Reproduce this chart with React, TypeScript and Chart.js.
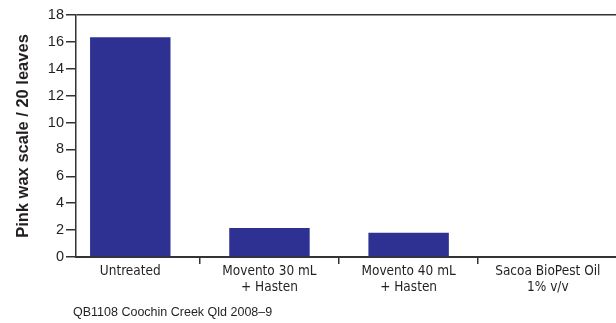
import React, { useEffect, useRef } from 'react';
import { Chart, registerables } from 'chart.js';

Chart.register(...registerables);

const categories: string[][] = [
  ['Untreated'],
  ['Movento 30 mL', '+ Hasten'],
  ['Movento 40 mL', '+ Hasten'],
  ['Sacoa BioPest Oil', '1% v/v'],
];
const values: number[] = [16.35, 2.15, 1.8, 0];
const yMin = 0;
const yMax = 18;
const yStep = 2;
const yTitle = 'Pink wax scale / 20 leaves';
const footnote = 'QB1108 Coochin Creek Qld 2008–9';

const FONT = '"Liberation Sans", Arial, Helvetica, sans-serif';
const NARROW = '"DejaVu Sans Condensed", "DejaVu Sans", sans-serif';
const TEXT = '#231f20';
const LINE = '#333333';
const BAR = '#2e3192';

export default function App() {
  const ref = useRef<HTMLCanvasElement | null>(null);

  useEffect(() => {
    if (!ref.current) return;
    const chart = new Chart(ref.current, {
      type: 'bar',
      data: {
        datasets: [
          {
            data: values.map((v, i) => ({ x: i, y: v })),
            backgroundColor: BAR,
            borderWidth: 0,
            barPercentage: 0.578,
            categoryPercentage: 1,
          },
        ],
      },
      options: {
        animation: false,
        responsive: false,
        devicePixelRatio: 1,
        layout: { padding: { left: 10, top: 15, right: 0, bottom: 0 } },
        plugins: { legend: { display: false }, tooltip: { enabled: false } },
        scales: {
          x: {
            type: 'linear',
            min: -0.39,
            max: 3.49,
            offset: false,
            afterBuildTicks: (s: any) => {
              s.ticks = categories.map((_, i) => ({ value: i }));
            },
            afterFit: (s: any) => {
              s.height = 66;
            },
            grid: {
              offset: true,
              drawOnChartArea: false,
              drawTicks: true,
              tickLength: 7,
              tickColor: LINE,
              tickWidth: 1.5,
              lineWidth: 1.5,
            },
            border: { display: true, color: LINE, width: 2 },
            ticks: {
              callback: (v: any) => categories[v as number],
              font: { family: NARROW, size: 13.5, lineHeight: 1.15 },
              color: TEXT,
              padding: 0,
              maxRotation: 0,
              autoSkip: false,
            },
          },
          y: {
            type: 'linear',
            min: yMin,
            max: yMax,
            afterFit: (s: any) => {
              s.width = 66;
            },
            ticks: {
              stepSize: yStep,
              font: { family: FONT, size: 14.5 },
              color: TEXT,
              padding: 2,
            },
            grid: {
              drawOnChartArea: true,
              color: (ctx: any) => (ctx.tick && ctx.tick.value === yMax ? LINE : 'rgba(0,0,0,0)'),
              tickColor: LINE,
              tickLength: 10,
              lineWidth: 1.5,
            },
            border: { display: true, color: LINE, width: 1.5 },
            title: {
              display: true,
              text: yTitle,
              font: { family: FONT, size: 16.5, weight: 'bold' },
              color: TEXT,
              padding: { top: 4, bottom: 0 },
            },
          },
        },
      },
    });
    return () => chart.destroy();
  }, []);

  return (
    <div style={{ position: 'absolute', left: 0, top: 0, width: 616, height: 323, background: '#fff' }}>
      <canvas ref={ref} width={616} height={323} style={{ display: 'block', width: 616, height: 323 }} />
      <div
        style={{
          position: 'absolute',
          left: 73,
          top: 306,
          fontFamily: FONT,
          fontSize: 12.5,
          lineHeight: '13px',
          color: TEXT,
          whiteSpace: 'nowrap',
        }}
      >
        {footnote}
      </div>
    </div>
  );
}
